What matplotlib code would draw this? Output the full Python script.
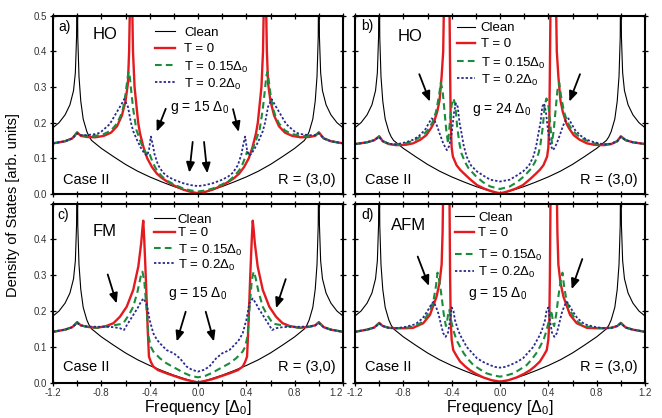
import matplotlib
matplotlib.use('Agg')
import matplotlib.pyplot as plt
from matplotlib.ticker import MultipleLocator

plt.rcParams['font.family'] = ['Liberation Sans', 'DejaVu Sans']
plt.rcParams['mathtext.fontset'] = 'custom'
plt.rcParams['mathtext.rm'] = 'Liberation Sans'
plt.rcParams['mathtext.it'] = 'Liberation Sans:italic'
plt.rcParams['mathtext.bf'] = 'Liberation Sans:bold'

# ---------------- data ----------------
x_clean = [-1.2, -1.15, -1.1, -1.06, -1.03, -1.015, -1.005, -1.0, -0.995, -0.985, -0.97, -0.95, -0.92, -0.9, -0.88, -0.8, -0.7, -0.6, -0.5, -0.4, -0.3, -0.2, -0.1, 0.0, 0.1, 0.2, 0.3, 0.4, 0.5, 0.6, 0.7, 0.8, 0.88, 0.9, 0.92, 0.95, 0.97, 0.985, 0.995, 1.0, 1.005, 1.015, 1.03, 1.06, 1.1, 1.15, 1.2]
y_clean = [0.186, 0.2, 0.222, 0.25, 0.29, 0.34, 0.44, 0.7, 0.44, 0.33, 0.26, 0.21, 0.175, 0.16, 0.15, 0.128, 0.105, 0.083, 0.064, 0.048, 0.034, 0.021, 0.01, 0.0, 0.01, 0.021, 0.034, 0.048, 0.064, 0.083, 0.105, 0.128, 0.15, 0.16, 0.175, 0.21, 0.26, 0.33, 0.44, 0.7, 0.44, 0.34, 0.29, 0.25, 0.222, 0.2, 0.186]

# panel a (HO, g = 15)
xa_red = [-1.2, -1.1, -1.04, -1.0, -0.97, -0.92, -0.85, -0.78, -0.72, -0.67, -0.63, -0.6, -0.58, -0.57, -0.56, -0.548, -0.538, -0.525, -0.51, -0.495, -0.48, -0.45, -0.42, -0.38, -0.34, -0.3, -0.26, -0.2, -0.12, -0.06, 0.0, 0.06, 0.12, 0.2, 0.26, 0.3, 0.34, 0.38, 0.42, 0.45, 0.48, 0.495, 0.51, 0.525, 0.538, 0.548, 0.56, 0.57, 0.58, 0.6, 0.63, 0.67, 0.72, 0.78, 0.85, 0.92, 0.97, 1.0, 1.04, 1.1, 1.2]
ya_red = [0.142, 0.148, 0.156, 0.173, 0.163, 0.16, 0.159, 0.163, 0.172, 0.19, 0.22, 0.26, 0.31, 0.4, 0.6, 0.6, 0.4, 0.3, 0.25, 0.2, 0.17, 0.13, 0.1, 0.075, 0.057, 0.045, 0.036, 0.024, 0.012, 0.006, 0.002, 0.006, 0.012, 0.024, 0.036, 0.045, 0.057, 0.075, 0.1, 0.13, 0.17, 0.2, 0.25, 0.3, 0.4, 0.6, 0.6, 0.4, 0.31, 0.26, 0.22, 0.19, 0.172, 0.163, 0.159, 0.16, 0.163, 0.173, 0.156, 0.148, 0.142]
xa_green = [-1.2, -1.1, -1.04, -1.0, -0.97, -0.92, -0.85, -0.78, -0.72, -0.67, -0.64, -0.62, -0.6, -0.585, -0.575, -0.565, -0.55, -0.535, -0.51, -0.48, -0.45, -0.425, -0.405, -0.39, -0.37, -0.34, -0.3, -0.26, -0.2, -0.12, -0.06, 0.0, 0.06, 0.12, 0.2, 0.26, 0.3, 0.34, 0.37, 0.39, 0.405, 0.425, 0.45, 0.48, 0.51, 0.535, 0.55, 0.565, 0.575, 0.585, 0.6, 0.62, 0.64, 0.67, 0.72, 0.78, 0.85, 0.92, 0.97, 1.0, 1.04, 1.1, 1.2]
ya_green = [0.142, 0.148, 0.156, 0.172, 0.165, 0.163, 0.163, 0.168, 0.178, 0.198, 0.22, 0.24, 0.28, 0.32, 0.343, 0.33, 0.28, 0.235, 0.18, 0.151, 0.125, 0.112, 0.118, 0.102, 0.085, 0.066, 0.05, 0.038, 0.027, 0.015, 0.01, 0.007, 0.01, 0.015, 0.027, 0.038, 0.05, 0.066, 0.085, 0.102, 0.118, 0.112, 0.125, 0.151, 0.18, 0.235, 0.28, 0.33, 0.343, 0.32, 0.28, 0.24, 0.22, 0.198, 0.178, 0.168, 0.163, 0.163, 0.165, 0.172, 0.156, 0.148, 0.142]
xa_blue = [-1.2, -1.1, -1.04, -1.0, -0.97, -0.92, -0.85, -0.81, -0.73, -0.68, -0.64, -0.61, -0.58, -0.555, -0.535, -0.5, -0.47, -0.44, -0.42, -0.405, -0.39, -0.375, -0.36, -0.33, -0.29, -0.25, -0.2, -0.12, -0.06, 0.0, 0.06, 0.12, 0.2, 0.25, 0.29, 0.33, 0.36, 0.375, 0.39, 0.405, 0.42, 0.44, 0.47, 0.5, 0.535, 0.555, 0.58, 0.61, 0.64, 0.68, 0.73, 0.81, 0.85, 0.92, 0.97, 1.0, 1.04, 1.1, 1.2]
ya_blue = [0.142, 0.148, 0.156, 0.17, 0.165, 0.165, 0.168, 0.172, 0.196, 0.225, 0.248, 0.266, 0.245, 0.2, 0.175, 0.148, 0.128, 0.112, 0.108, 0.125, 0.161, 0.14, 0.112, 0.081, 0.06, 0.049, 0.04, 0.03, 0.025, 0.022, 0.025, 0.03, 0.04, 0.049, 0.06, 0.081, 0.112, 0.14, 0.161, 0.125, 0.108, 0.112, 0.128, 0.148, 0.175, 0.2, 0.245, 0.266, 0.248, 0.225, 0.196, 0.172, 0.168, 0.165, 0.165, 0.17, 0.156, 0.148, 0.142]

# panel b (HO, g = 24)
xb_red = [-1.2, -1.1, -1.04, -1.0, -0.97, -0.92, -0.86, -0.78, -0.72, -0.66, -0.61, -0.57, -0.55, -0.52, -0.5, -0.483, -0.47, -0.461, -0.42, -0.413, -0.408, -0.4, -0.39, -0.36, -0.33, -0.3, -0.25, -0.19, -0.13, -0.08, -0.04, 0.0, 0.04, 0.08, 0.13, 0.19, 0.25, 0.3, 0.33, 0.36, 0.39, 0.4, 0.408, 0.413, 0.42, 0.461, 0.47, 0.483, 0.5, 0.52, 0.55, 0.57, 0.61, 0.66, 0.72, 0.78, 0.86, 0.92, 0.97, 1.0, 1.04, 1.1, 1.2]
yb_red = [0.14, 0.145, 0.151, 0.162, 0.148, 0.14, 0.137, 0.138, 0.142, 0.152, 0.165, 0.185, 0.198, 0.23, 0.263, 0.33, 0.4, 0.6, 0.6, 0.35, 0.2, 0.13, 0.105, 0.081, 0.068, 0.058, 0.042, 0.025, 0.015, 0.009, 0.005, 0.002, 0.005, 0.009, 0.015, 0.025, 0.042, 0.058, 0.068, 0.081, 0.105, 0.13, 0.2, 0.35, 0.6, 0.6, 0.4, 0.33, 0.263, 0.23, 0.198, 0.185, 0.165, 0.152, 0.142, 0.138, 0.137, 0.14, 0.148, 0.162, 0.151, 0.145, 0.14]
xb_green = [-1.2, -1.1, -1.04, -1.0, -0.97, -0.92, -0.86, -0.78, -0.7, -0.64, -0.6, -0.56, -0.53, -0.505, -0.49, -0.475, -0.46, -0.445, -0.43, -0.415, -0.4, -0.385, -0.37, -0.355, -0.335, -0.32, -0.29, -0.26, -0.2, -0.14, -0.08, 0.0, 0.08, 0.14, 0.2, 0.26, 0.29, 0.32, 0.335, 0.355, 0.37, 0.385, 0.4, 0.415, 0.43, 0.445, 0.46, 0.475, 0.49, 0.505, 0.53, 0.56, 0.6, 0.64, 0.7, 0.78, 0.86, 0.92, 0.97, 1.0, 1.04, 1.1, 1.2]
yb_green = [0.14, 0.145, 0.151, 0.161, 0.148, 0.141, 0.139, 0.142, 0.152, 0.165, 0.178, 0.2, 0.23, 0.275, 0.312, 0.29, 0.235, 0.18, 0.142, 0.2, 0.25, 0.268, 0.25, 0.19, 0.14, 0.115, 0.09, 0.072, 0.05, 0.033, 0.021, 0.014, 0.021, 0.033, 0.05, 0.072, 0.09, 0.115, 0.14, 0.19, 0.25, 0.268, 0.25, 0.2, 0.142, 0.18, 0.235, 0.29, 0.312, 0.275, 0.23, 0.2, 0.178, 0.165, 0.152, 0.142, 0.139, 0.141, 0.148, 0.161, 0.151, 0.145, 0.14]
xb_blue = [-1.2, -1.1, -1.04, -1.0, -0.97, -0.92, -0.86, -0.78, -0.72, -0.67, -0.62, -0.59, -0.566, -0.545, -0.52, -0.5, -0.47, -0.44, -0.42, -0.4, -0.38, -0.365, -0.35, -0.335, -0.318, -0.3, -0.276, -0.24, -0.19, -0.13, -0.08, 0.0, 0.08, 0.13, 0.19, 0.24, 0.276, 0.3, 0.318, 0.335, 0.35, 0.365, 0.38, 0.4, 0.42, 0.44, 0.47, 0.5, 0.52, 0.545, 0.566, 0.59, 0.62, 0.67, 0.72, 0.78, 0.86, 0.92, 0.97, 1.0, 1.04, 1.1, 1.2]
yb_blue = [0.14, 0.145, 0.151, 0.16, 0.148, 0.141, 0.139, 0.145, 0.152, 0.163, 0.18, 0.198, 0.212, 0.208, 0.19, 0.17, 0.142, 0.123, 0.135, 0.17, 0.23, 0.254, 0.245, 0.2, 0.17, 0.135, 0.105, 0.08, 0.063, 0.05, 0.04, 0.035, 0.04, 0.05, 0.063, 0.08, 0.105, 0.135, 0.17, 0.2, 0.245, 0.254, 0.23, 0.17, 0.135, 0.123, 0.142, 0.17, 0.19, 0.208, 0.212, 0.198, 0.18, 0.163, 0.152, 0.145, 0.139, 0.141, 0.148, 0.16, 0.151, 0.145, 0.14]

# panel c (FM, g = 15)
xc_red = [-1.2, -1.1, -1.04, -1.0, -0.97, -0.92, -0.84, -0.76, -0.7, -0.646, -0.59, -0.536, -0.494, -0.47, -0.46, -0.453, -0.445, -0.435, -0.425, -0.415, -0.406, -0.39, -0.37, -0.33, -0.26, -0.19, -0.12, -0.06, 0.0, 0.06, 0.12, 0.19, 0.26, 0.33, 0.37, 0.39, 0.406, 0.415, 0.425, 0.435, 0.445, 0.453, 0.46, 0.47, 0.494, 0.536, 0.59, 0.646, 0.7, 0.76, 0.84, 0.92, 0.97, 1.0, 1.04, 1.1, 1.2]
yc_red = [0.142, 0.148, 0.155, 0.169, 0.16, 0.156, 0.153, 0.158, 0.166, 0.184, 0.212, 0.259, 0.324, 0.39, 0.43, 0.452, 0.4, 0.32, 0.23, 0.14, 0.073, 0.058, 0.045, 0.035, 0.026, 0.018, 0.01, 0.005, 0.001, 0.005, 0.01, 0.018, 0.026, 0.035, 0.045, 0.058, 0.073, 0.14, 0.23, 0.32, 0.4, 0.452, 0.43, 0.39, 0.324, 0.259, 0.212, 0.184, 0.166, 0.158, 0.153, 0.156, 0.16, 0.169, 0.155, 0.148, 0.142]
xc_green = [-1.2, -1.1, -1.04, -1.0, -0.97, -0.92, -0.84, -0.76, -0.7, -0.65, -0.62, -0.6, -0.57, -0.536, -0.5, -0.475, -0.46, -0.445, -0.425, -0.41, -0.39, -0.37, -0.315, -0.26, -0.2, -0.12, -0.06, 0.0, 0.06, 0.12, 0.2, 0.26, 0.315, 0.37, 0.39, 0.41, 0.425, 0.445, 0.46, 0.475, 0.5, 0.536, 0.57, 0.6, 0.62, 0.65, 0.7, 0.76, 0.84, 0.92, 0.97, 1.0, 1.04, 1.1, 1.2]
yc_green = [0.142, 0.148, 0.155, 0.168, 0.16, 0.156, 0.153, 0.157, 0.16, 0.163, 0.165, 0.175, 0.19, 0.212, 0.255, 0.295, 0.31, 0.285, 0.203, 0.13, 0.1, 0.087, 0.068, 0.054, 0.043, 0.028, 0.019, 0.015, 0.019, 0.028, 0.043, 0.054, 0.068, 0.087, 0.1, 0.13, 0.203, 0.285, 0.31, 0.295, 0.255, 0.212, 0.19, 0.175, 0.165, 0.163, 0.16, 0.157, 0.153, 0.156, 0.16, 0.168, 0.155, 0.148, 0.142]
xc_blue = [-1.2, -1.1, -1.04, -1.0, -0.97, -0.92, -0.84, -0.76, -0.7, -0.646, -0.613, -0.59, -0.56, -0.536, -0.5, -0.48, -0.453, -0.425, -0.4, -0.37, -0.34, -0.315, -0.26, -0.2, -0.15, -0.094, -0.05, 0.0, 0.05, 0.094, 0.15, 0.2, 0.26, 0.315, 0.34, 0.37, 0.4, 0.425, 0.453, 0.48, 0.5, 0.536, 0.56, 0.59, 0.613, 0.646, 0.7, 0.76, 0.84, 0.92, 0.97, 1.0, 1.04, 1.1, 1.2]
yc_blue = [0.142, 0.148, 0.155, 0.166, 0.16, 0.157, 0.156, 0.156, 0.155, 0.152, 0.147, 0.16, 0.176, 0.189, 0.208, 0.221, 0.235, 0.221, 0.175, 0.138, 0.12, 0.11, 0.091, 0.082, 0.068, 0.045, 0.036, 0.031, 0.036, 0.045, 0.068, 0.082, 0.091, 0.11, 0.12, 0.138, 0.175, 0.221, 0.235, 0.221, 0.208, 0.189, 0.176, 0.16, 0.147, 0.152, 0.155, 0.156, 0.156, 0.157, 0.16, 0.166, 0.155, 0.148, 0.142]

# panel d (AFM, g = 15)
xd_red = [-1.2, -1.1, -1.04, -1.0, -0.97, -0.92, -0.856, -0.78, -0.72, -0.635, -0.58, -0.525, -0.5, -0.483, -0.475, -0.468, -0.42, -0.413, -0.408, -0.4, -0.387, -0.36, -0.33, -0.29, -0.25, -0.2, -0.14, -0.07, 0.0, 0.07, 0.14, 0.2, 0.25, 0.29, 0.33, 0.36, 0.387, 0.4, 0.408, 0.413, 0.42, 0.468, 0.475, 0.483, 0.5, 0.525, 0.58, 0.635, 0.72, 0.78, 0.856, 0.92, 0.97, 1.0, 1.04, 1.1, 1.2]
yd_red = [0.142, 0.148, 0.154, 0.167, 0.158, 0.153, 0.152, 0.152, 0.153, 0.166, 0.189, 0.24, 0.28, 0.33, 0.42, 0.6, 0.6, 0.3, 0.17, 0.12, 0.091, 0.075, 0.059, 0.046, 0.035, 0.025, 0.015, 0.007, 0.003, 0.007, 0.015, 0.025, 0.035, 0.046, 0.059, 0.075, 0.091, 0.12, 0.17, 0.3, 0.6, 0.6, 0.42, 0.33, 0.28, 0.24, 0.189, 0.166, 0.153, 0.152, 0.152, 0.153, 0.158, 0.167, 0.154, 0.148, 0.142]
xd_green = [-1.2, -1.1, -1.04, -1.0, -0.97, -0.92, -0.856, -0.78, -0.7, -0.65, -0.61, -0.575, -0.55, -0.53, -0.517, -0.5, -0.483, -0.465, -0.448, -0.44, -0.43, -0.42, -0.4, -0.38, -0.36, -0.33, -0.3, -0.26, -0.22, -0.16, -0.11, -0.05, 0.0, 0.05, 0.11, 0.16, 0.22, 0.26, 0.3, 0.33, 0.36, 0.38, 0.4, 0.42, 0.43, 0.44, 0.448, 0.465, 0.483, 0.5, 0.517, 0.53, 0.55, 0.575, 0.61, 0.65, 0.7, 0.78, 0.856, 0.92, 0.97, 1.0, 1.04, 1.1, 1.2]
yd_green = [0.142, 0.148, 0.154, 0.166, 0.158, 0.153, 0.152, 0.153, 0.158, 0.168, 0.184, 0.205, 0.23, 0.27, 0.307, 0.28, 0.24, 0.19, 0.158, 0.165, 0.19, 0.203, 0.166, 0.14, 0.119, 0.1, 0.082, 0.064, 0.049, 0.036, 0.026, 0.02, 0.017, 0.02, 0.026, 0.036, 0.049, 0.064, 0.082, 0.1, 0.119, 0.14, 0.166, 0.203, 0.19, 0.165, 0.158, 0.19, 0.24, 0.28, 0.307, 0.27, 0.23, 0.205, 0.184, 0.168, 0.158, 0.153, 0.152, 0.153, 0.158, 0.166, 0.154, 0.148, 0.142]
xd_blue = [-1.2, -1.1, -1.04, -1.0, -0.97, -0.92, -0.856, -0.78, -0.7, -0.64, -0.6, -0.57, -0.55, -0.53, -0.51, -0.49, -0.47, -0.45, -0.43, -0.415, -0.4, -0.385, -0.373, -0.35, -0.33, -0.3, -0.276, -0.23, -0.19, -0.14, -0.083, -0.04, 0.0, 0.04, 0.083, 0.14, 0.19, 0.23, 0.276, 0.3, 0.33, 0.35, 0.373, 0.385, 0.4, 0.415, 0.43, 0.45, 0.47, 0.49, 0.51, 0.53, 0.55, 0.57, 0.6, 0.64, 0.7, 0.78, 0.856, 0.92, 0.97, 1.0, 1.04, 1.1, 1.2]
yd_blue = [0.142, 0.148, 0.154, 0.165, 0.158, 0.153, 0.152, 0.156, 0.163, 0.18, 0.2, 0.218, 0.226, 0.212, 0.193, 0.165, 0.138, 0.128, 0.14, 0.17, 0.21, 0.2, 0.175, 0.15, 0.133, 0.115, 0.1, 0.083, 0.068, 0.058, 0.049, 0.044, 0.042, 0.044, 0.049, 0.058, 0.068, 0.083, 0.1, 0.115, 0.133, 0.15, 0.175, 0.2, 0.21, 0.17, 0.14, 0.128, 0.138, 0.165, 0.193, 0.212, 0.226, 0.218, 0.2, 0.18, 0.163, 0.156, 0.152, 0.153, 0.158, 0.165, 0.154, 0.148, 0.142]

series_labels = ['Clean', 'T = 0', 'T = 0.15Δ$_0$', 'T = 0.2Δ$_0$']
panel_tags = ['a)', 'b)', 'c)', 'd)']
panel_types = ['HO', 'HO', 'FM', 'AFM']
panel_g = ['g = 15 Δ$_0$', 'g = 24 Δ$_0$', 'g = 15 Δ$_0$', 'g = 15 Δ$_0$']
x_ticks = [-1.2, -0.8, -0.4, 0.0, 0.4, 0.8, 1.2]
x_tick_labels = ['-1.2', '-0.8', '-0.4', '0.0', '0.4', '0.8', '1.2']
y_ticks = [0.0, 0.1, 0.2, 0.3, 0.4, 0.5]
y_tick_labels = ['0.0', '0.1', '0.2', '0.3', '0.4', '0.5']

# arrows: (tail x, tail y, head x, head y) in data units
arrows_a = [(-0.267, 0.239, -0.342, 0.175), (0.29, 0.238, 0.337, 0.174),
            (-0.044, 0.146, -0.072, 0.060), (0.05, 0.146, 0.077, 0.058)]
arrows_b = [(-0.668, 0.336, -0.58, 0.259), (0.662, 0.336, 0.574, 0.259)]
arrows_c = [(-0.747, 0.302, -0.673, 0.221), (-0.102, 0.198, -0.176, 0.115),
            (0.064, 0.198, 0.132, 0.115), (0.726, 0.289, 0.646, 0.208)]
arrows_d = [(-0.681, 0.352, -0.588, 0.270), (0.681, 0.345, 0.593, 0.261)]

panels = [
    (xa_red, ya_red, xa_green, ya_green, xa_blue, ya_blue, arrows_a),
    (xb_red, yb_red, xb_green, yb_green, xb_blue, yb_blue, arrows_b),
    (xc_red, yc_red, xc_green, yc_green, xc_blue, yc_blue, arrows_c),
    (xd_red, yd_red, xd_green, yd_green, xd_blue, yd_blue, arrows_d),
]

# ---------------- layout / style ----------------
W, H = 662, 418
fig = plt.figure(figsize=(W / 100, H / 100), dpi=100)
rects = [
    [53 / W, 1 - 194 / H, 290 / W, 178.3 / H],
    [355 / W, 1 - 194 / H, 290 / W, 178.3 / H],
    [53 / W, 1 - 382.7 / H, 290 / W, 179.2 / H],
    [355 / W, 1 - 382.7 / H, 290 / W, 179.2 / H],
]
RED = '#e31b1f'
GREEN = '#1a8c3c'
BLUE = '#2a2a8e'
styles = [
    dict(color='black', lw=0.8),
    dict(color=RED, lw=1.7),
    dict(color=GREEN, lw=1.5, dashes=(3.2, 2.0)),
    dict(color=BLUE, lw=1.3, dashes=(1.3, 1.1)),
]

tag_pos = [(0.017, 0.937), (0.021, 0.944), (0.014, 0.936), (0.021, 0.936)]
type_pos = [(0.138, 0.892), (0.148, 0.886), (0.138, 0.841), (0.124, 0.88)]
g_pos = [(0.403, 0.499), (0.403, 0.488), (0.397, 0.512), (0.39, 0.512)]
case_y = [0.079, 0.079, 0.088, 0.088]
# legend layout in axes fraction: handle x0, handle x1, text x, row y's
leg_hx = [(0.352, 0.421, 0.452), (0.352, 0.414, 0.434), (0.348, 0.421, 0.43), (0.345, 0.41, 0.424)]
leg_rows = [(0.914, 0.819, 0.723, 0.628), (0.937, 0.847, 0.746, 0.651),
            (0.919, 0.841, 0.752, 0.668), (0.930, 0.841, 0.72, 0.625)]

for i, (rect, pdata) in enumerate(zip(rects, panels)):
    xr, yr, xg, yg, xb, yb, arrows = pdata
    ax = fig.add_axes(rect)
    ax.plot(x_clean, y_clean, **styles[0])
    ax.plot(xr, yr, **styles[1])
    ax.plot(xg, yg, **styles[2])
    ax.plot(xb, yb, **styles[3])
    ax.set_xlim(-1.2, 1.2)
    ax.set_ylim(0, 0.5)
    ax.set_xticks(x_ticks)
    ax.xaxis.set_minor_locator(MultipleLocator(0.2))
    ax.set_yticks(y_ticks)
    for s in ax.spines.values():
        s.set_linewidth(1.5)
    ax.tick_params(which='both', direction='inout', top=True, right=True,
                   labelsize=7, labelcolor='#333333', width=0.9, pad=1.5)
    ax.tick_params(which='major', length=5)
    ax.tick_params(which='minor', length=4)
    if i in (0, 2):
        labs = list(y_tick_labels)
        if i == 2:
            labs[-1] = ''
        ax.set_yticklabels(labs)
    else:
        ax.set_yticklabels([])
    if i in (2, 3):
        tl = ax.set_xticklabels(x_tick_labels)
        if i == 2:
            tl[-1].set_horizontalalignment('right')
        ax.set_xlabel('Frequency [Δ$_0$]', fontsize=11.5, labelpad=0)
    else:
        ax.set_xticklabels([])

    ax.text(tag_pos[i][0], tag_pos[i][1], panel_tags[i], transform=ax.transAxes,
            fontsize=10, ha='left', va='center')
    ax.text(type_pos[i][0], type_pos[i][1], panel_types[i], transform=ax.transAxes,
            fontsize=12, ha='left', va='center')
    ax.text(g_pos[i][0], g_pos[i][1], panel_g[i], transform=ax.transAxes,
            fontsize=10, ha='left', va='center_baseline')
    ax.text(0.034, case_y[i], 'Case II', transform=ax.transAxes,
            fontsize=10.5, ha='left', va='center')
    ax.text(0.976, case_y[i], 'R = (3,0)', transform=ax.transAxes,
            fontsize=10.5, ha='right', va='center')
    for (tx, ty, hx, hy) in arrows:
        ax.annotate('', xy=(hx, hy), xytext=(tx, ty),
                    arrowprops=dict(arrowstyle='-|>,head_length=0.6,head_width=0.25',
                                    color='black', lw=1.3, shrinkA=0, shrinkB=0))
    # legend (key lines + labels)
    hx0, hx1, tx0 = leg_hx[i]
    for k in range(4):
        ry = leg_rows[i][k]
        ax.plot([hx0, hx1], [ry, ry], transform=ax.transAxes, clip_on=False,
                **styles[k])
        ax.text(tx0, ry, series_labels[k], transform=ax.transAxes,
                fontsize=9.5, ha='left', va='center_baseline')

fig.text(0.02, 0.51, 'Density of States [arb. units]', rotation=90,
         fontsize=10.5, ha='center', va='center')

fig.savefig('out.png', dpi=100)
